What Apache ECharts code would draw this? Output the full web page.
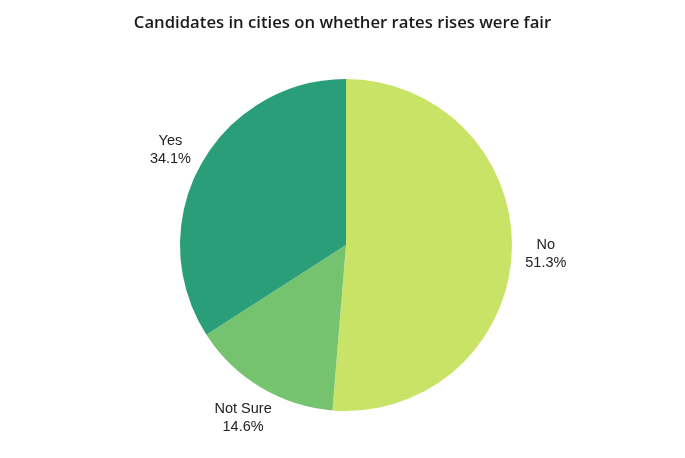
<!DOCTYPE html>
<html>
<head>
<meta charset="utf-8">
<script src="https://cdn.jsdelivr.net/npm/echarts@6/dist/echarts.min.js"></script>
<style>html,body{margin:0;padding:0;background:#fff}#c{width:685px;height:458px}</style>
</head>
<body>
<div id="c"></div>
<script>
const titleText = 'Candidates in cities on whether rates rises were fair';
const categories = ['No', 'Not Sure', 'Yes'];
const values = [51.3, 14.6, 34.1];
const colors = ['#C9E366', '#75C36F', '#2A9E79'];

const chart = echarts.init(document.getElementById('c'), null, {renderer: 'canvas'});
const pieData = categories.map((c, i) => ({name: c, value: values[i], itemStyle: {color: colors[i]}}));
const labelData = categories.map((c, i) => ({name: c, value: values[i]}));
chart.setOption({
  animation: false,
  backgroundColor: '#ffffff',
  title: {
    text: titleText,
    left: 'center',
    top: 10,
    textStyle: {fontFamily: 'Open Sans', fontWeight: 600, fontSize: 16.7, color: '#1a1a1a'}
  },
  series: [
    {
      type: 'pie',
      center: [346, 245],
      radius: [0, 166],
      startAngle: 90,
      clockwise: true,
      silent: true,
      label: {show: false},
      labelLine: {show: false},
      itemStyle: {borderWidth: 0},
      data: pieData
    },
    {
      type: 'pie',
      center: [346, 246],
      radius: [166, 228],
      startAngle: 90,
      clockwise: true,
      silent: true,
      percentPrecision: 1,
      itemStyle: {color: 'rgba(0,0,0,0)', borderWidth: 0},
      labelLine: {show: false},
      label: {
        show: true,
        position: 'inside',
        formatter: '{n|{b}}\n{n|{d}%}',
        rich: {
          n: {fontFamily: 'Liberation Sans', fontSize: 14.5, color: '#222', align: 'center', lineHeight: 18}
        }
      },
      data: labelData
    }
  ]
});
</script>
</body>
</html>
